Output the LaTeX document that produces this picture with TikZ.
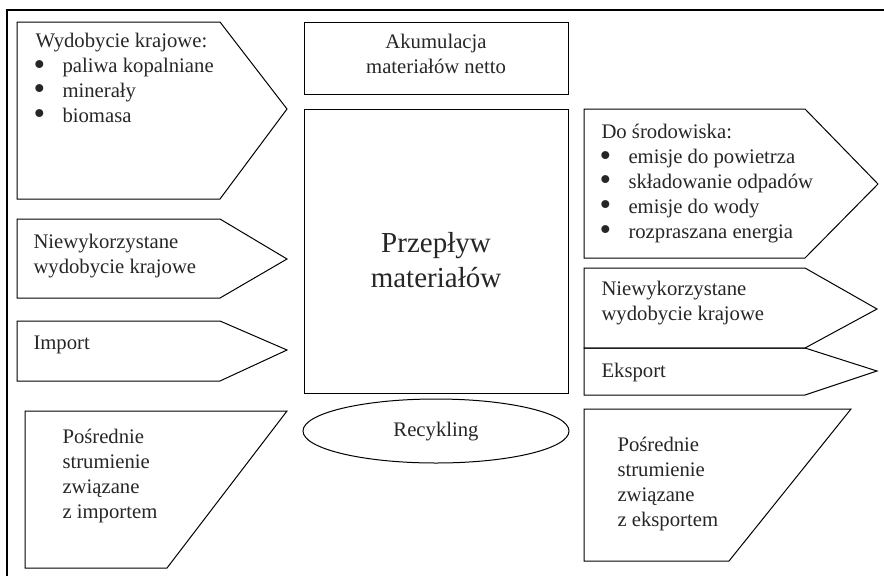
\documentclass[tikz,border=0pt]{standalone}
\usepackage{fontspec}
\setmainfont{Liberation Serif}
\usetikzlibrary{positioning,shapes.geometric}

\newcommand{\bul}{\makebox[27pt][l]{\hspace{-2pt}\smash{\raisebox{-0.12em}{\scalebox{1.6}{•}}}}}

\begin{document}
\begin{tikzpicture}[x=1pt,y=-1pt,line width=1pt]
  \tikzstyle{txt}=[inner sep=0pt,align=left,anchor=north west,text=black!85,
                   font=\fontsize{20.7}{24.8}\selectfont]
  \tikzstyle{mid}=[inner sep=0pt,align=center,anchor=north,text=black!85,
                   font=\fontsize{20.7}{24.5}\selectfont]
  \useasboundingbox (0,0) rectangle (884,576);

  % ramka
  \draw[line width=1.4pt] (7,576) -- (7,10) -- (884,10);

  % lewa kolumna
  \draw (17,22) -- (220,22) -- (287,109) -- (220,199) -- (17,199) -- cycle;
  \draw (17,219) -- (220,219) -- (287,259) -- (220,298) -- (17,298) -- cycle;
  \draw (17,321) -- (220,321) -- (287,350) -- (220,381) -- (17,381) -- cycle;
  \draw (25,411) -- (287,411) -- (167,568) -- (25,568) -- cycle;

  \node[txt] (wyd)     at (35,33)  {Wydobycie krajowe:\\ \bul paliwa kopalniane\\
                                    \bul minerały\\ \bul biomasa};
  \node[txt] (niewykL) at (33,234) {Niewykorzystane\\ wydobycie krajowe};
  \node[txt] (import)  at (33,335) {Import};
  \node[txt] (posrL)   at (62,429) {Pośrednie\\ strumienie\\ związane\\ z importem};

  % srodek
  \node[draw, minimum width=264pt, minimum height=72pt] (akumbox) at (436,58) {};
  \node[mid] (akum) at (436,34) {Akumulacja\\ materiałów netto};
  \node[draw, minimum width=264pt, minimum height=284pt] (przepbox) at (436,251) {};
  \node[mid, font=\fontsize{29}{35}\selectfont] (przep) at (436,232) {Przepływ\\ materiałów};
  \node[draw, ellipse, minimum width=266pt, minimum height=64pt] (recbox) at (436,431) {};
  \node[mid, anchor=base] (recykling) at (436,436) {Recykling};

  % prawa kolumna
  \draw (584,109) -- (805,109) -- (878,184) -- (805,258) -- (584,258) -- cycle;
  \draw (584,268) -- (805,268) -- (877,309) -- (805,348) -- (584,348) -- cycle;
  \draw (584,348) -- (805,348) -- (877,371) -- (805,395) -- (584,395) -- cycle;
  \draw (584,409) -- (851,409) -- (729,561) -- (584,561) -- cycle;

  \node[txt] (srod)    at (601,124) {Do środowiska:\\ \bul emisje do powietrza\\
                                     \bul składowanie odpadów\\ \bul emisje do wody\\
                                     \bul rozpraszana energia};
  \node[txt] (niewykR) at (601,281) {Niewykorzystane\\ wydobycie krajowe};
  \node[txt] (eksport) at (601,363) {Eksport};
  \node[txt] (posrR)   at (617,437) {Pośrednie\\ strumienie\\ związane\\ z eksportem};
\end{tikzpicture}
\end{document}
